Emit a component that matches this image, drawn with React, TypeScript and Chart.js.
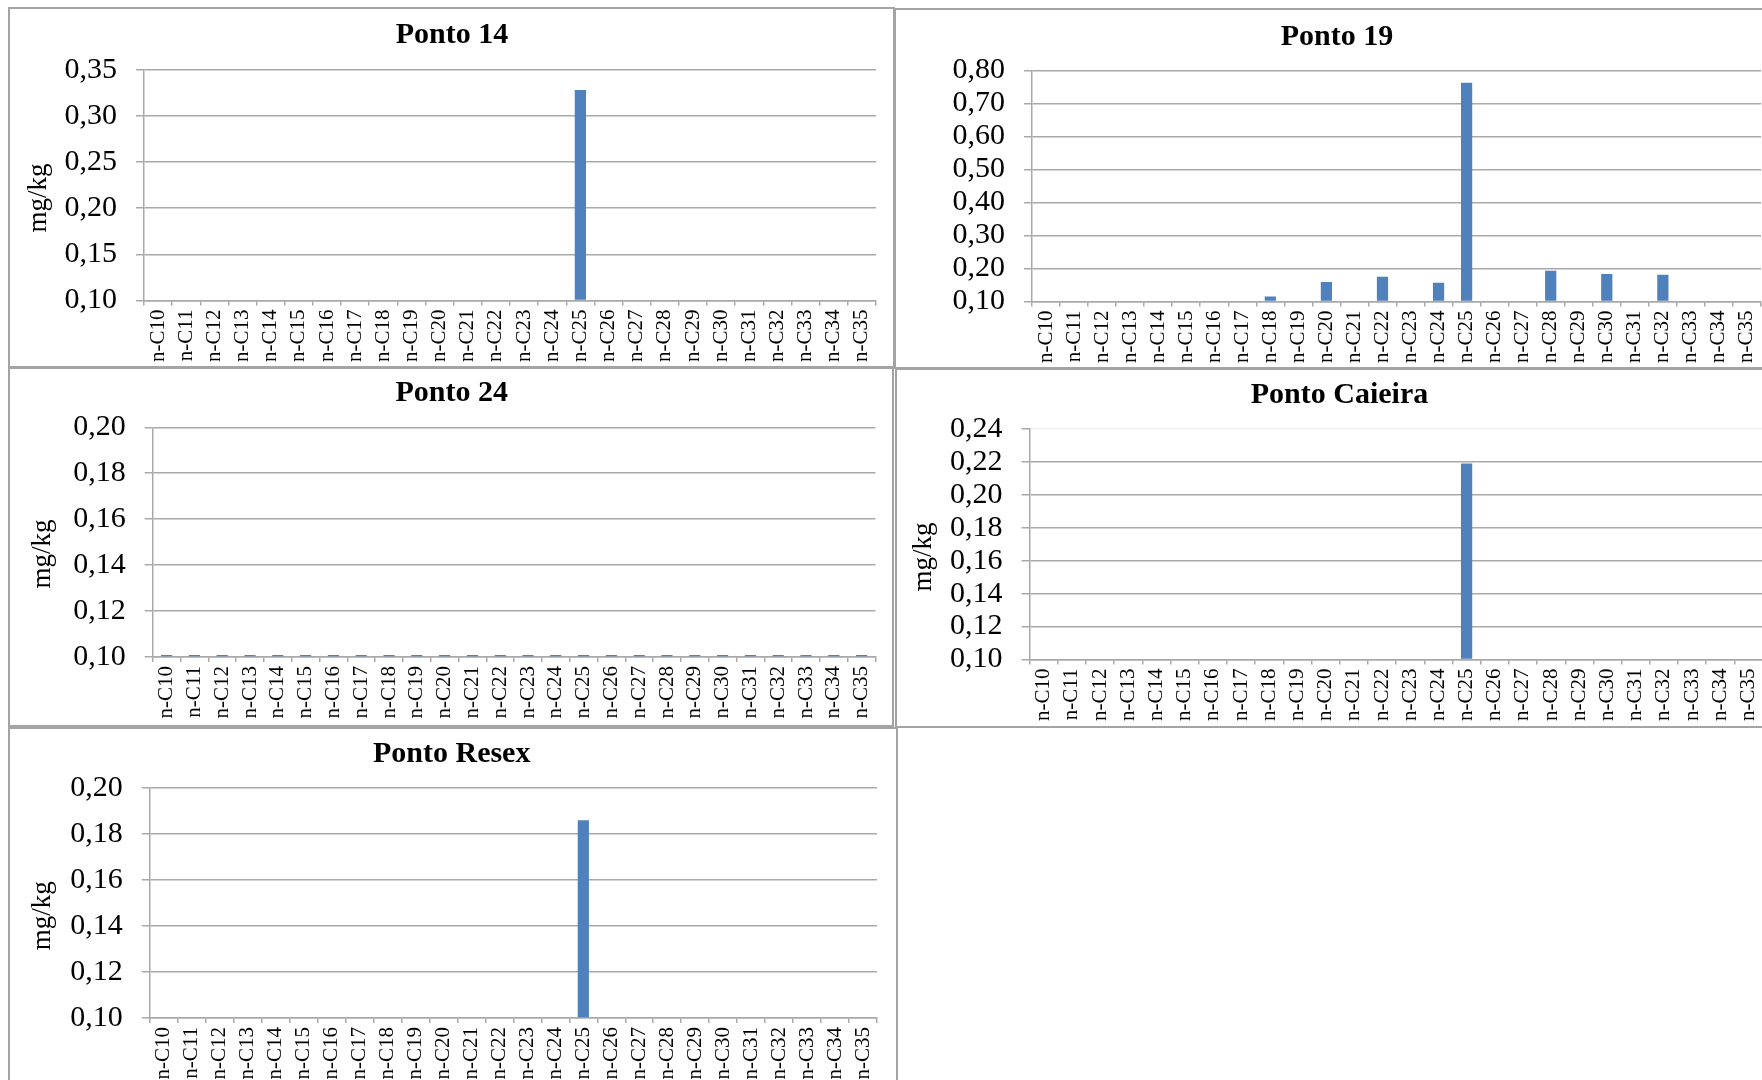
import React, { useEffect, useRef } from "react";
import { Chart, registerables } from "chart.js";

Chart.register(...registerables);

// n-alkane homologues on the category axis
const categories = [
  "n-C10", "n-C11", "n-C12", "n-C13", "n-C14", "n-C15", "n-C16", "n-C17", "n-C18",
  "n-C19", "n-C20", "n-C21", "n-C22", "n-C23", "n-C24", "n-C25", "n-C26", "n-C27",
  "n-C28", "n-C29", "n-C30", "n-C31", "n-C32", "n-C33", "n-C34", "n-C35",
];

// concentrations in mg/kg (null = not detected)
const ponto14Values = [
  null, null, null, null, null, null, null, null, null, null, null, null, null,
  null, null, 0.328, null, null, null, null, null, null, null, null, null, null,
];
const ponto19Values = [
  null, null, null, null, null, null, null, null, 0.115, null, 0.159, null, 0.175,
  null, 0.157, 0.763, null, null, 0.193, null, 0.183, null, 0.181, null, null, null,
];
const ponto24Values = [
  0.1, 0.1, 0.1, 0.1, 0.1, 0.1, 0.1, 0.1, 0.1, 0.1, 0.1, 0.1, 0.1,
  0.1, 0.1, 0.1, 0.1, 0.1, 0.1, 0.1, 0.1, 0.1, 0.1, 0.1, 0.1, 0.1,
];
const caieiraValues = [
  null, null, null, null, null, null, null, null, null, null, null, null, null,
  null, null, 0.219, null, null, null, null, null, null, null, null, null, null,
];
const resexValues = [
  null, null, null, null, null, null, null, null, null, null, null, null, null,
  null, null, 0.186, null, null, null, null, null, null, null, null, null, null,
];

// value-axis ticks for each panel
const ponto14Ticks = [0.1, 0.15, 0.2, 0.25, 0.3, 0.35];
const ponto19Ticks = [0.1, 0.2, 0.3, 0.4, 0.5, 0.6, 0.7, 0.8];
const ponto24Ticks = [0.1, 0.12, 0.14, 0.16, 0.18, 0.2];
const caieiraTicks = [0.1, 0.12, 0.14, 0.16, 0.18, 0.2, 0.22, 0.24];
const resexTicks = [0.1, 0.12, 0.14, 0.16, 0.18, 0.2];

const unitLabel = "mg/kg";

const FAMILY = "'Liberation Serif', 'Times New Roman', serif";
const BAR = "#4f81bd";
const GRID = "#a9a9a9";
const FRAME = "#a4a4a4";
const FRAME_W = 2;

type Box = { left: number; top: number; width: number; height: number };
type Area = { left: number; top: number; right: number; bottom: number };

type PanelSpec = {
  title: string;
  values: (number | null)[];
  ticks: number[];
  box: Box;
  area: Area;
  titleAt: [number, number];
  unitAt?: [number, number];
  fadeTopGrid?: boolean;
  minBar?: number;
};

const panels: PanelSpec[] = [
  {
    title: "Ponto 14",
    values: ponto14Values,
    ticks: ponto14Ticks,
    box: { left: 8, top: 7, width: 887, height: 361 },
    area: { left: 144, top: 69.7, right: 876, bottom: 300.5 },
    titleAt: [452, 35.5],
    unitAt: [39, 198],
  },
  {
    title: "Ponto 19",
    values: ponto19Values,
    ticks: ponto19Ticks,
    box: { left: 894, top: 8, width: 886, height: 361 },
    area: { left: 1032, top: 70.5, right: 1761, bottom: 301.5 },
    titleAt: [1337, 37],
  },
  {
    title: "Ponto 24",
    values: ponto24Values,
    ticks: ponto24Ticks,
    box: { left: 8, top: 367, width: 886, height: 360 },
    area: { left: 152.7, top: 427.3, right: 875.5, bottom: 657 },
    titleAt: [451.7, 393],
    unitAt: [42.7, 554],
    minBar: 2,
  },
  {
    title: "Ponto Caieira",
    values: caieiraValues,
    ticks: caieiraTicks,
    box: { left: 895, top: 368, width: 885, height: 360 },
    area: { left: 1029.6, top: 429, right: 1762.6, bottom: 659.5 },
    titleAt: [1339.5, 395.3],
    unitAt: [923.7, 557],
    fadeTopGrid: true,
  },
  {
    title: "Ponto Resex",
    values: resexValues,
    ticks: resexTicks,
    box: { left: 8, top: 727, width: 890, height: 400 },
    area: { left: 149.8, top: 788, right: 877, bottom: 1018 },
    titleAt: [451.7, 753.8],
    unitAt: [42.7, 915.8],
  },
];

const fmt = (v: number) => v.toFixed(2).replace(".", ",");

// draws the panel heading and the rotated unit caption
const captionPlugin = {
  id: "panelText",
  afterDraw(chart: any, _args: any, opts: any) {
    const ctx = chart.ctx as CanvasRenderingContext2D;
    ctx.save();
    ctx.fillStyle = "#000";
    ctx.textAlign = "center";
    ctx.textBaseline = "middle";
    ctx.font = `bold 30px ${FAMILY}`;
    ctx.fillText(opts.title, opts.titleX, opts.titleY);
    if (opts.unit) {
      ctx.translate(opts.unitX, opts.unitY);
      ctx.rotate(-Math.PI / 2);
      ctx.font = `27px ${FAMILY}`;
      ctx.fillText(opts.unit, 0, 0);
    }
    ctx.restore();
  },
};

function Panel({ spec }: { spec: PanelSpec }) {
  const ref = useRef<HTMLCanvasElement | null>(null);
  const cw = spec.box.width - 2 * FRAME_W;
  const ch = spec.box.height - 2 * FRAME_W;
  const ox = spec.box.left + FRAME_W;
  const oy = spec.box.top + FRAME_W;

  useEffect(() => {
    if (!ref.current) return;
    const aL = spec.area.left - ox;
    const aR = spec.area.right - ox;
    const aT = spec.area.top - oy;
    const aB = spec.area.bottom - oy;
    const yMin = spec.ticks[0];
    const yMax = spec.ticks[spec.ticks.length - 1];

    const chart = new Chart(ref.current, {
      type: "bar",
      data: {
        labels: categories,
        datasets: [
          {
            data: spec.values as any,
            backgroundColor: BAR,
            borderWidth: 0,
            barPercentage: 0.4,
            categoryPercentage: 1,
            base: yMin,
            minBarLength: spec.minBar ?? 0,
          },
        ],
      },
      options: {
        animation: false,
        responsive: false,
        maintainAspectRatio: false,
        events: [],
        layout: { padding: { top: aT, right: cw - aR, left: 0, bottom: 0 } },
        font: { family: FAMILY },
        plugins: {
          legend: { display: false },
          title: { display: false },
          tooltip: { enabled: false },
          panelText: {
            title: spec.title,
            titleX: spec.titleAt[0] - ox,
            titleY: spec.titleAt[1] - oy,
            unit: spec.unitAt ? unitLabel : null,
            unitX: spec.unitAt ? spec.unitAt[0] - ox : 0,
            unitY: spec.unitAt ? spec.unitAt[1] - oy : 0,
          },
        } as any,
        scales: {
          x: {
            type: "category",
            offset: true,
            grid: {
              display: true,
              drawOnChartArea: false,
              drawTicks: true,
              offset: true,
              tickLength: 5,
              color: GRID,
              lineWidth: 1.5,
            },
            border: { display: true, color: GRID, width: 1.5 },
            ticks: {
              autoSkip: false,
              minRotation: 90,
              maxRotation: 90,
              padding: 4,
              color: "#000",
              font: { family: FAMILY, size: 21 },
            },
            afterFit: (s: any) => {
              s.height = ch - aB;
            },
          },
          y: {
            type: "linear",
            min: yMin,
            max: yMax,
            grid: {
              color: (c: any) =>
                spec.fadeTopGrid && c.tick && c.tick.value >= yMax - 1e-9 ? "#f1f1f1" : GRID,
              tickColor: GRID,
              lineWidth: 1.5,
              drawTicks: true,
              tickLength: 8,
            },
            border: { display: true, color: GRID, width: 1.5 },
            ticks: {
              autoSkip: false,
              padding: 19,
              color: "#000",
              font: { family: FAMILY, size: 30 },
              callback: (v: any) => fmt(Number(v)),
            },
            afterBuildTicks: (s: any) => {
              s.ticks = spec.ticks.map((v) => ({ value: v }));
            },
            afterFit: (s: any) => {
              s.width = aL;
            },
          },
        },
      } as any,
      plugins: [captionPlugin],
    });
    return () => chart.destroy();
  }, [spec]);

  return (
    <div
      style={{
        position: "absolute",
        left: spec.box.left,
        top: spec.box.top,
        width: spec.box.width,
        height: spec.box.height,
        boxSizing: "border-box",
        border: `${FRAME_W}px solid ${FRAME}`,
        background: "#fff",
      }}
    >
      <canvas
        ref={ref}
        width={cw}
        height={ch}
        style={{ position: "absolute", left: 0, top: 0, width: cw, height: ch }}
      />
    </div>
  );
}

export default function App() {
  return (
    <div
      style={{
        position: "absolute",
        left: 0,
        top: 0,
        width: 1762,
        height: 1080,
        overflow: "hidden",
        background: "#fff",
      }}
    >
      {panels.map((p) => (
        <Panel key={p.title} spec={p} />
      ))}
    </div>
  );
}
